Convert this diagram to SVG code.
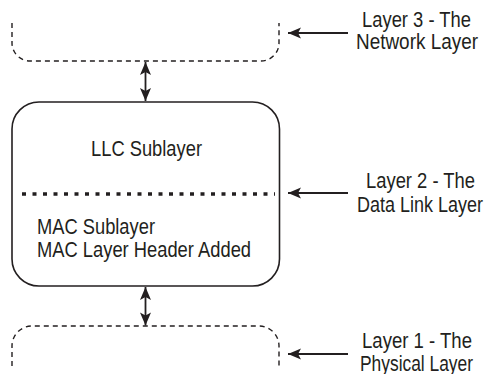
<svg xmlns="http://www.w3.org/2000/svg" width="487" height="374" viewBox="0 0 487 374">
  <style>
    .label { font-family: "Liberation Sans", Arial, sans-serif; font-size: 21.5px; fill: #231f20; }
    .solid { fill: #ffffff; stroke: #231f20; stroke-width: 1.6; }
    .dashed { fill: none; stroke: #231f20; stroke-width: 1.4; stroke-dasharray: 5 4; }
    .divider { fill: none; stroke: #231f20; stroke-width: 3.6; stroke-dasharray: 4 6.5; }
    .link { fill: none; stroke: #231f20; stroke-width: 1.8; }
  </style>
  <defs>
    <marker id="head" markerUnits="userSpaceOnUse" viewBox="-1 -7 16 14" refX="13" refY="0" markerWidth="16" markerHeight="14" orient="auto-start-reverse">
      <path d="M0,-5.5 L13,0 L0,5.5 L3,0 Z" fill="#231f20"/>
    </marker>
  </defs>
  <rect width="487" height="374" fill="#ffffff"/>

  <!-- Layer 3: network layer (open at top) -->
  <g id="network-layer">
    <path class="dashed" d="M12,23 V43 A18,18 0 0 0 30,61 H261 A18,18 0 0 0 279,43 V23"/>
  </g>

  <!-- Layer 2: data link layer with its two sublayers; labels are horizontally condensed -->
  <g id="data-link-layer">
    <rect class="solid" x="12" y="102" width="267.5" height="184" rx="27" ry="27"/>
    <line class="divider" x1="22" y1="194" x2="275" y2="194"/>
    <text class="label" transform="translate(91,156) scale(0.87,1)" textLength="127.6" lengthAdjust="spacingAndGlyphs">LLC Sublayer</text>
    <text class="label" transform="translate(37,234) scale(0.87,1)" textLength="135.6" lengthAdjust="spacingAndGlyphs">MAC Sublayer</text>
    <text class="label" transform="translate(37,257) scale(0.87,1)" textLength="246" lengthAdjust="spacingAndGlyphs">MAC Layer Header Added</text>
  </g>

  <!-- Layer 1: physical layer (open at bottom) -->
  <g id="physical-layer">
    <path class="dashed" d="M12,366 V346 A20,20 0 0 1 32,326 H259 A20,20 0 0 1 279,346 V366"/>
  </g>

  <!-- Side captions -->
  <g id="caption-layer3">
    <text class="label" transform="translate(362,27) scale(0.87,1)" textLength="125.3" lengthAdjust="spacingAndGlyphs">Layer 3 - The</text>
    <text class="label" transform="translate(356,49) scale(0.87,1)" textLength="140.2" lengthAdjust="spacingAndGlyphs">Network Layer</text>
  </g>
  <g id="caption-layer2">
    <text class="label" transform="translate(366,188) scale(0.87,1)" textLength="125.3" lengthAdjust="spacingAndGlyphs">Layer 2 - The</text>
    <text class="label" transform="translate(357,212) scale(0.87,1)" textLength="144.8" lengthAdjust="spacingAndGlyphs">Data Link Layer</text>
  </g>
  <g id="caption-layer1">
    <text class="label" transform="translate(362,348) scale(0.87,1)" textLength="126.4" lengthAdjust="spacingAndGlyphs">Layer 1 - The</text>
    <text class="label" transform="translate(360,371) scale(0.87,1)" textLength="129.9" lengthAdjust="spacingAndGlyphs">Physical Layer</text>
  </g>

  <!-- Connectors -->
  <g id="connectors">
    <line class="link" x1="145.5" y1="62" x2="145.5" y2="101" marker-start="url(#head)" marker-end="url(#head)"/>
    <line class="link" x1="145.5" y1="287" x2="145.5" y2="325.5" marker-start="url(#head)" marker-end="url(#head)"/>
    <line class="link" x1="348" y1="33" x2="288" y2="33" marker-end="url(#head)"/>
    <line class="link" x1="348" y1="193" x2="288" y2="193" marker-end="url(#head)"/>
    <line class="link" x1="348" y1="354" x2="288" y2="354" marker-end="url(#head)"/>
  </g>
</svg>
